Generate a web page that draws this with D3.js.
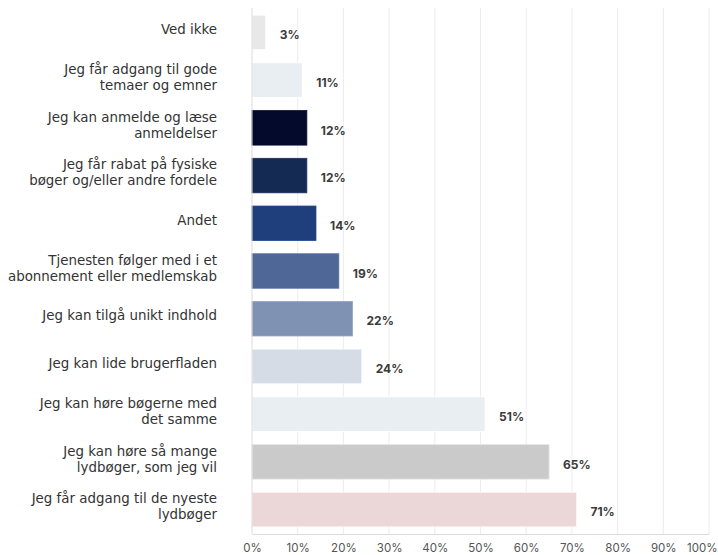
<!DOCTYPE html>
<html>
<head>
<meta charset="utf-8">
<script src="https://cdn.jsdelivr.net/npm/d3@7"></script>
<style>
  body { margin: 0; background: #ffffff; }
  svg { display: block; }
</style>
</head>
<body>
<svg id="chart" width="718" height="555"></svg>
<script>
// Reasons for choosing the service, share of respondents (%)
const categories = [
  ["Ved ikke"],
  ["Jeg får adgang til gode", "temaer og emner"],
  ["Jeg kan anmelde og læse", "anmeldelser"],
  ["Jeg får rabat på fysiske", "bøger og/eller andre fordele"],
  ["Andet"],
  ["Tjenesten følger med i et", "abonnement eller medlemskab"],
  ["Jeg kan tilgå unikt indhold"],
  ["Jeg kan lide brugerfladen"],
  ["Jeg kan høre bøgerne med", "det samme"],
  ["Jeg kan høre så mange", "lydbøger, som jeg vil"],
  ["Jeg får adgang til de nyeste", "lydbøger"]
];
const values = [3, 11, 12, 12, 14, 19, 22, 24, 51, 65, 71];
const barColors = [
  "#e8e8e8", "#e9eef2", "#030a2c", "#152a53", "#1e3f7b", "#4e6796",
  "#7f92b3", "#d5dce6", "#e9eef2", "#cacaca", "#ecd7d8"
];
const tickValues = [0, 10, 20, 30, 40, 50, 60, 70, 80, 90, 100];

const svg = d3.select("#chart");
const margin = { top: 8, right: 9, bottom: 21, left: 252 };
const width = 718 - margin.left - margin.right;
const height = 555 - margin.top - margin.bottom;

const g = svg.append("g").attr("transform", `translate(${margin.left},${margin.top})`);

const x = d3.scaleLinear().domain([0, 100]).range([0, width]);
const y = d3.scaleBand()
  .domain(d3.range(values.length))
  .range([0, height])
  .paddingInner(0.277)
  .paddingOuter(0.15);

// vertical gridlines
g.append("g")
  .selectAll("line")
  .data(tickValues.slice(1))
  .join("line")
  .attr("x1", d => x(d)).attr("x2", d => x(d))
  .attr("y1", 0).attr("y2", height)
  .attr("stroke", "#ececec")
  .attr("stroke-width", 1);

// bars
g.append("g")
  .selectAll("rect")
  .data(values)
  .join("rect")
  .attr("x", x(0))
  .attr("y", (d, i) => y(i))
  .attr("width", d => x(d) - x(0))
  .attr("height", y.bandwidth())
  .attr("fill", (d, i) => barColors[i])
  .attr("stroke", (d, i) => d3.color(barColors[i]).brighter(0.35))
  .attr("stroke-width", 0.8);

// value labels
g.append("g")
  .selectAll("text")
  .data(values)
  .join("text")
  .attr("x", d => x(d) + 14)
  .attr("y", (d, i) => y(i) + y.bandwidth() / 2 + 2.5)
  .attr("dy", "0.35em")
  .attr("font-family", "Inter, 'Noto Sans', sans-serif")
  .attr("font-size", 12)
  .attr("font-weight", 700)
  .attr("fill", "#3b3b3b")
  .text(d => d + "%");

// category labels
const lineH = 16;
const labels = g.append("g")
  .selectAll("text")
  .data(categories)
  .join("text")
  .attr("text-anchor", "end")
  .attr("font-family", "'DejaVu Sans', sans-serif")
  .attr("font-size", 13.4)
  .attr("fill", "#333333")
  .attr("transform", (d, i) => `translate(${-35},${y(i) + y.bandwidth() / 2 - 3})`);

labels.selectAll("tspan")
  .data(d => d.map((t, k) => ({ t, k, n: d.length })))
  .join("tspan")
  .attr("x", 0)
  .attr("y", d => (d.k - (d.n - 1) / 2) * lineH)
  .attr("dy", "0.35em")
  .text(d => d.t);

// left axis line
g.append("line")
  .attr("x1", 0).attr("x2", 0)
  .attr("y1", 0).attr("y2", height)
  .attr("stroke", "#dcdcdc");

// bottom axis
const xAxis = g.append("g")
  .attr("transform", `translate(0,${height})`)
  .call(d3.axisBottom(x).tickValues(tickValues).tickFormat(d => d + "%").tickSize(0).tickPadding(10));
xAxis.select(".domain").attr("stroke", "#dcdcdc");
xAxis.selectAll("text")
  .attr("font-family", "Inter, 'Noto Sans', sans-serif")
  .attr("font-size", 11.5)
  .attr("fill", "#555555");
// keep the last tick label inside the frame
xAxis.selectAll(".tick").filter(d => d === 100).select("text")
  .attr("text-anchor", "end")
  .attr("dx", "8");
</script>
</body>
</html>
